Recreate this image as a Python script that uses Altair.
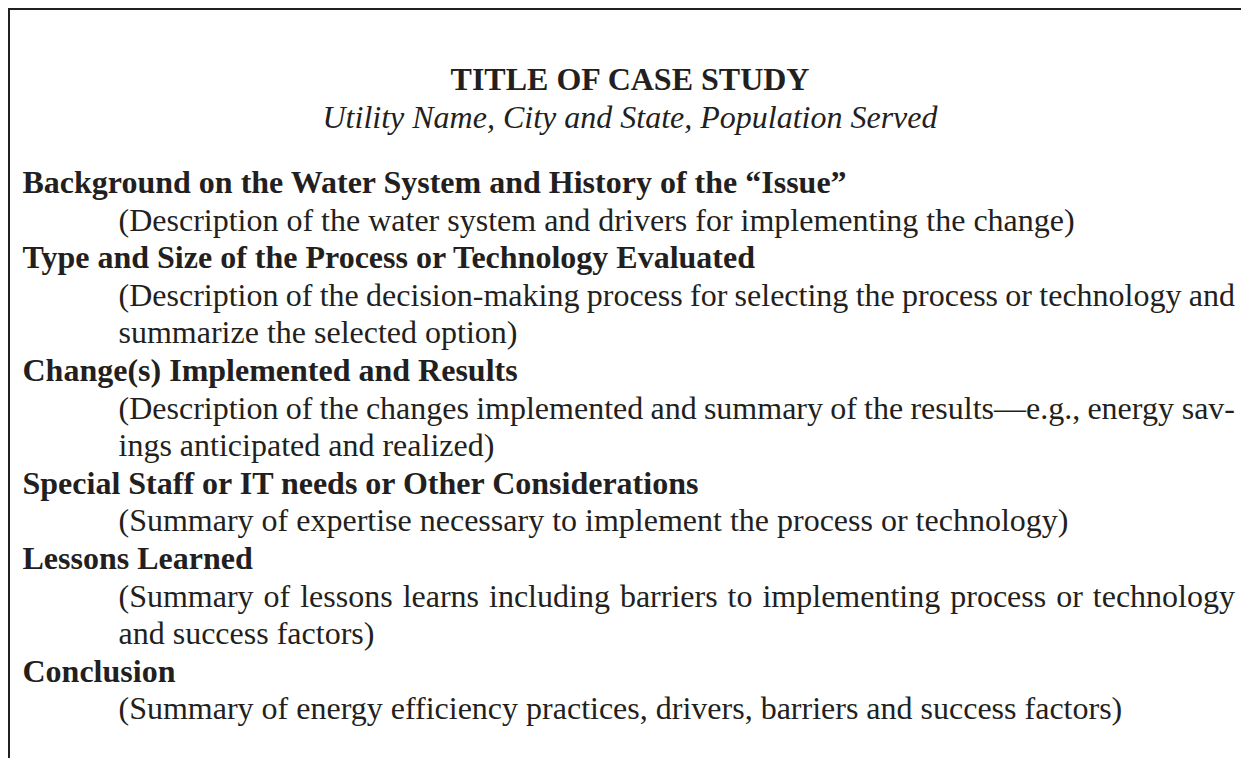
import altair as alt
import pandas as pd

# ---- content -------------------------------------------------------------
title = "TITLE OF CASE STUDY"
subtitle = "Utility Name, City and State, Population Served"

lines = [
    "Background on the Water System and History of the \u201cIssue\u201d",
    "(Description of the water system and drivers for implementing the change)",
    "Type and Size of the Process or Technology Evaluated",
    "(Description of the decision-making process for selecting the process or technology and",
    "summarize the selected option)",
    "Change(s) Implemented and Results",
    "(Description of the changes implemented and summary of the results\u2014e.g., energy sav-",
    "ings anticipated and realized)",
    "Special Staff or IT needs or Other Considerations",
    "(Summary of expertise necessary to implement the process or technology)",
    "Lessons Learned",
    "(Summary of lessons learns including barriers to implementing process or technology",
    "and success factors)",
    "Conclusion",
    "(Summary of energy efficiency practices, drivers, barriers and success factors)",
]
kinds = ["heading", "body", "heading", "justify", "body", "heading", "justify", "body",
         "heading", "body", "heading", "justify", "body", "heading", "body"]

# ---- layout helpers (Times / Liberation Serif advance widths, 1/1000 em) ----
W = {' ': 250, '(': 333, ')': 333, ',': 250, '.': 250, '-': 333, '\u2014': 1000,
     'a': 444, 'b': 500, 'c': 444, 'd': 500, 'e': 444, 'f': 333, 'g': 500, 'h': 500,
     'i': 278, 'j': 278, 'k': 500, 'l': 278, 'm': 778, 'n': 500, 'o': 500, 'p': 500,
     'q': 500, 'r': 333, 's': 389, 't': 278, 'u': 500, 'v': 500, 'w': 722, 'x': 500,
     'y': 500, 'z': 444, 'S': 556, 'D': 722}

FS = 32
LEAD = 37.6
TOP = 193
HX = 22.5
BX = 118.5
RIGHT = 1235


def wdt(s):
    return sum(W.get(c, 500) for c in s) * FS / 1000.0


rows = []
rows.append(dict(x=630, y=90, t=title, w="bold", s="normal", a="center"))
rows.append(dict(x=630, y=127.6, t=subtitle, w="normal", s="italic", a="center"))
for i, (txt, k) in enumerate(zip(lines, kinds)):
    y = TOP + i * LEAD
    if k == "heading":
        rows.append(dict(x=HX, y=y, t=txt, w="bold", s="normal", a="left"))
    elif k == "body":
        rows.append(dict(x=BX, y=y, t=txt, w="normal", s="normal", a="left"))
    else:
        words = txt.split(" ")
        total = sum(wdt(w) for w in words)
        gap = (RIGHT - BX - total) / (len(words) - 1)
        cx = BX
        for j, w in enumerate(words):
            if j == len(words) - 1:
                rows.append(dict(x=RIGHT, y=y, t=w, w="normal", s="normal", a="right"))
            else:
                rows.append(dict(x=cx, y=y, t=w, w="normal", s="normal", a="left"))
            cx += wdt(w) + gap

df = pd.DataFrame(rows)

xs = alt.Scale(domain=[8, 1241], nice=False, zero=False)
ys = alt.Scale(domain=[8, 758], nice=False, zero=False, reverse=True)
INK = "#231f20"

layers = []
for a in ["left", "center", "right"]:
    for wt in ["bold", "normal"]:
        for st in ["normal", "italic"]:
            sub = df[(df.a == a) & (df.w == wt) & (df.s == st)]
            if len(sub) == 0:
                continue
            layers.append(
                alt.Chart(sub).mark_text(
                    align=a, baseline="alphabetic", font="Liberation Serif",
                    fontSize=FS, fontWeight=wt, fontStyle=st, color=INK,
                ).encode(
                    x=alt.X("x:Q", scale=xs, axis=None),
                    y=alt.Y("y:Q", scale=ys, axis=None),
                    text="t:N",
                )
            )

border = pd.DataFrame({"x1": [8, 9], "x2": [1241, 9], "y1": [9, 8], "y2": [9, 758]})
frame = alt.Chart(border).mark_rule(color=INK, strokeWidth=2).encode(
    x=alt.X("x1:Q", scale=xs, axis=None), x2="x2:Q",
    y=alt.Y("y1:Q", scale=ys, axis=None), y2="y2:Q",
)

chart = alt.layer(frame, *layers).properties(
    width=1233, height=750,
    autosize=alt.AutoSizeParams(type="none"),
    padding=0,
).configure_view(stroke=None)

chart.save("out.html", embed_options={"renderer": "svg", "actions": False})
